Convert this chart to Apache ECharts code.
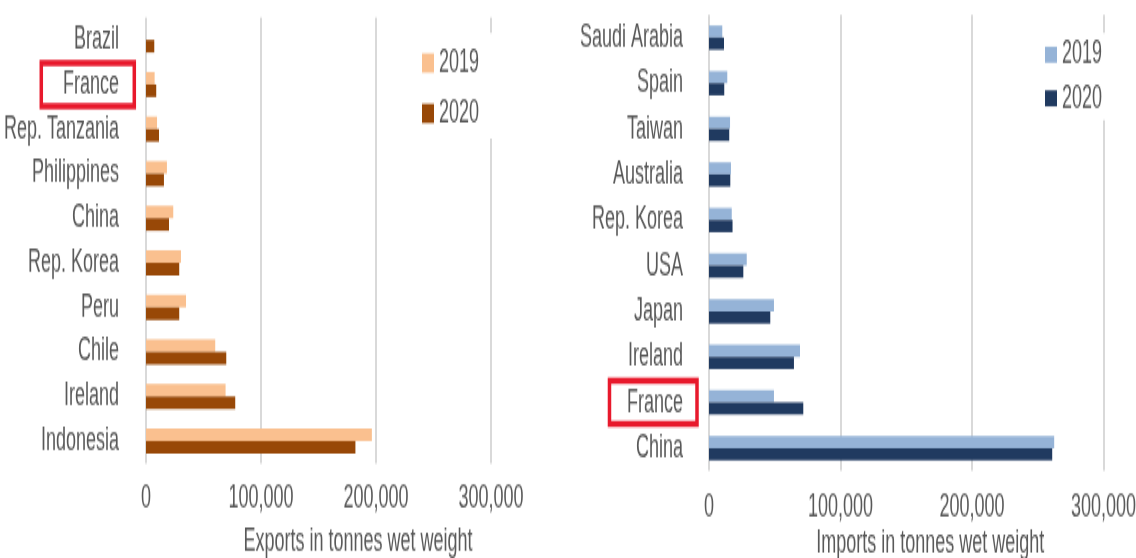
<!DOCTYPE html>
<html><head><meta charset="utf-8">
<script src="https://cdn.jsdelivr.net/npm/echarts@6/dist/echarts.min.js"></script>
<style>
html,body{margin:0;padding:0;background:#fff;overflow:hidden;width:1136px;height:558px}
#wrap{width:1136px;height:558px;overflow:hidden}
#c{width:1136px;height:310px;transform:scaleY(1.8);transform-origin:0 0}
</style>
</head><body><div id="wrap"><div id="c"></div></div>
<script>
// ---- data ----
const exportCountries = ['Brazil','France','Rep. Tanzania','Philippines','China','Rep. Korea','Peru','Chile','Ireland','Indonesia'];
const exports2019 = [null, 7500, 9600, 18200, 23700, 30400, 34800, 60200, 69200, 196400];
const exports2020 = [7200, 8900, 11300, 15600, 20000, 28900, 28900, 69800, 77600, 182100];
const importCountries = ['Saudi Arabia','Spain','Taiwan','Australia','Rep. Korea','USA','Japan','Ireland','France','China'];
const imports2019 = [10100, 13900, 16000, 16700, 17300, 28700, 49400, 69200, 49400, 262500];
const imports2020 = [11400, 11600, 15400, 16200, 17900, 26100, 46600, 64600, 71700, 261000];
const valueTicks = [0, 100000, 200000, 300000];
const years = ['2019', '2020'];
const highlighted = 'France';
const exportsAxisName = 'Exports in tonnes wet weight';
const importsAxisName = 'Imports in tonnes wet weight';

// ---- styles ----
const font = "'Liberation Sans', Arial, sans-serif";
const textColor = '#595959';
const gridColor = '#D9D9D9';
const exportColors = ['#FAC08F', '#984807'];
const importColors = ['#95B3D7', '#203A60'];
const boxColor = '#E8192C';

function catLabel(padR, boxPadL, margin) {
  return {
    interval: 0,
    margin: margin,
    formatter: v => v === highlighted ? '{box|' + v + '}' : '{n|' + v + '}',
    rich: {
      n: {fontSize: 18, lineHeight: 18, fontFamily: font, color: textColor, padding: [3, padR, 3, 0]},
      box: {fontSize: 18, lineHeight: 18, fontFamily: font, color: textColor, padding: [3, padR, 3, boxPadL],
            borderColor: boxColor, borderWidth: 3.5}
    }
  };
}
function valueAxis(idx, name, labelMargin, nameGap, namePadL) {
  return {
    type: 'value', gridIndex: idx,
    min: valueTicks[0], max: valueTicks[valueTicks.length - 1], interval: valueTicks[1] - valueTicks[0],
    axisLine: {show: false}, axisTick: {show: false},
    splitLine: {show: true, showMinLine: true, showMaxLine: true, lineStyle: {color: gridColor, width: 2}},
    axisLabel: {margin: labelMargin, fontSize: 18, lineHeight: 18, color: textColor, fontFamily: font},
    name: name, nameLocation: 'middle', nameGap: nameGap, nameMoveOverlap: false,
    nameTextStyle: {fontSize: 18, lineHeight: 18, color: textColor, fontFamily: font, padding: [0, 0, 0, namePadL]}
  };
}
function catAxis(idx, cats, padR, boxPadL, margin) {
  return {
    type: 'category', gridIndex: idx, data: cats, inverse: true,
    axisLine: {show: false}, axisTick: {show: false}, splitLine: {show: false},
    axisLabel: catLabel(padR, boxPadL, margin)
  };
}
function bar(name, xi, data, color, gap) {
  return {type: 'bar', name: name, xAxisIndex: xi, yAxisIndex: xi, data: data,
          itemStyle: {color: color}, barGap: '0%', barCategoryGap: gap};
}
function legend(left, top, padding, gap, iconH, colors) {
  return {
    orient: 'vertical', left: left, top: top, padding: padding, itemGap: gap,
    itemWidth: 12, itemHeight: iconH, icon: 'rect', backgroundColor: '#fff', selectedMode: false,
    textStyle: {fontSize: 18, lineHeight: 18, color: textColor, fontFamily: font},
    data: years.map((y, i) => ({name: y, itemStyle: {color: colors[i]}}))
  };
}

const chart = echarts.init(document.getElementById('c'), null, {renderer: 'canvas'});
chart.setOption({
  animation: false,
  backgroundColor: '#fff',
  textStyle: {fontFamily: font},
  grid: [
    {left: 146, top: 9.8, width: 345, height: 247.6, containLabel: false, outerBoundsMode: 'none'},
    {left: 709, top: 8.2, width: 394.5, height: 253.4, containLabel: false, outerBoundsMode: 'none'}
  ],
  xAxis: [
    valueAxis(0, exportsAxisName, 10.8, 34.5, 79),
    valueAxis(1, importsAxisName, 11.6, 31.2, 48)
  ],
  yAxis: [
    catAxis(0, exportCountries, 15.3, 21.7, 11.7),
    catAxis(1, importCountries, 14, 17.5, 12)
  ],
  legend: [
    legend(414, 18.3, [7.7, 16, 4.9, 8], 10, 10.7, exportColors),
    legend(1040, 18.3, [3.1, 6, 3.1, 5], 6.2, 8.9, importColors)
  ],
  series: [
    bar(years[0], 0, exports2019, exportColors[0], '44%'),
    bar(years[1], 0, exports2020, exportColors[1], '44%'),
    bar(years[0], 1, imports2019, importColors[0], '47%'),
    bar(years[1], 1, imports2020, importColors[1], '47%')
  ]
});
</script>
</body></html>
